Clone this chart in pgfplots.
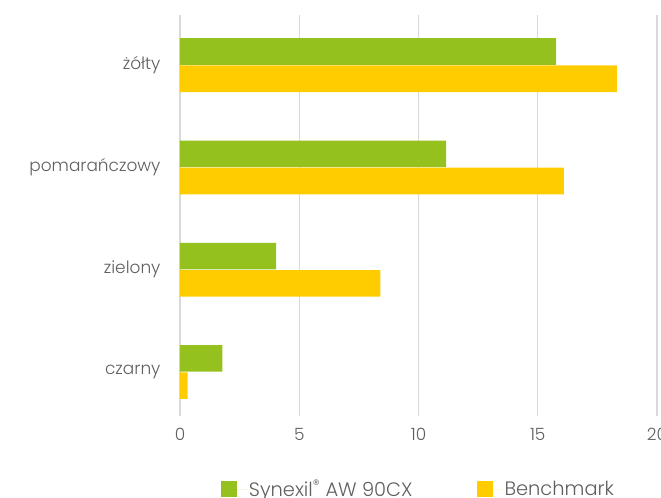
\documentclass[border=0pt]{standalone}
\usepackage{pgfplots}
\pgfplotsset{compat=1.18}
\usepackage{fontspec}
\setmainfont{Poppins Light}
\definecolor{syngreen}{HTML}{95C11F}
\definecolor{benchyellow}{HTML}{FFCC00}
\definecolor{txtgray}{HTML}{5F5F5F}
\definecolor{gridgray}{HTML}{D9D9D9}
\begin{document}
\begin{tikzpicture}
\begin{axis}[
    name=ax,
    scale only axis,
    width=477bp, height=401bp,
    xmin=0, xmax=20,
    ymin=-0.43, ymax=3.49,
    xtick={0,5,10,15,20},
    ytick={0,1,2,3},
    yticklabels={czarny,zielony,pomarańczowy,żółty},
    axis line style={draw=none},
    major tick length=0pt,
    xmajorgrids,
    grid style={gridgray, line width=1.2pt},
    tick label style={font=\fontsize{17}{20}\selectfont, text=txtgray},
    yticklabel style={xshift=-16bp},
    xticklabel style={yshift=-9bp},
    /pgf/number format/assume math mode=true,
    xbar,
    bar width=0.26,
    legend columns=2,
    legend style={
        at={(0.5,0)}, anchor=center, yshift=-73bp,
        draw=none, fill=none,
        font=\fontsize{19.5}{23}\selectfont, text=txtgray,
        /tikz/every even column/.append style={column sep=62bp},
    },
    legend image code/.code={
        \fill (0bp,-8.3bp) rectangle (16.5bp,8.3bp);
        \path (0bp,0bp) -- (26bp,0bp);
    },
]
\addplot[draw=none, fill=syngreen, bar shift=0.133] coordinates {
    (1.78,0) (4.03,1) (11.16,2) (15.77,3)
};
\addlegendentry{Synexil\textsuperscript{\textregistered} AW 90CX}
\addplot[draw=none, fill=benchyellow, bar shift=-0.133] coordinates {
    (0.32,0) (8.40,1) (16.10,2) (18.32,3)
};
\addlegendentry{Benchmark}
\end{axis}
\pgfresetboundingbox
\path ([shift={(-180bp,-82bp)}]ax.south west) rectangle ([shift={(4bp,15bp)}]ax.north east);
\end{tikzpicture}
\end{document}
